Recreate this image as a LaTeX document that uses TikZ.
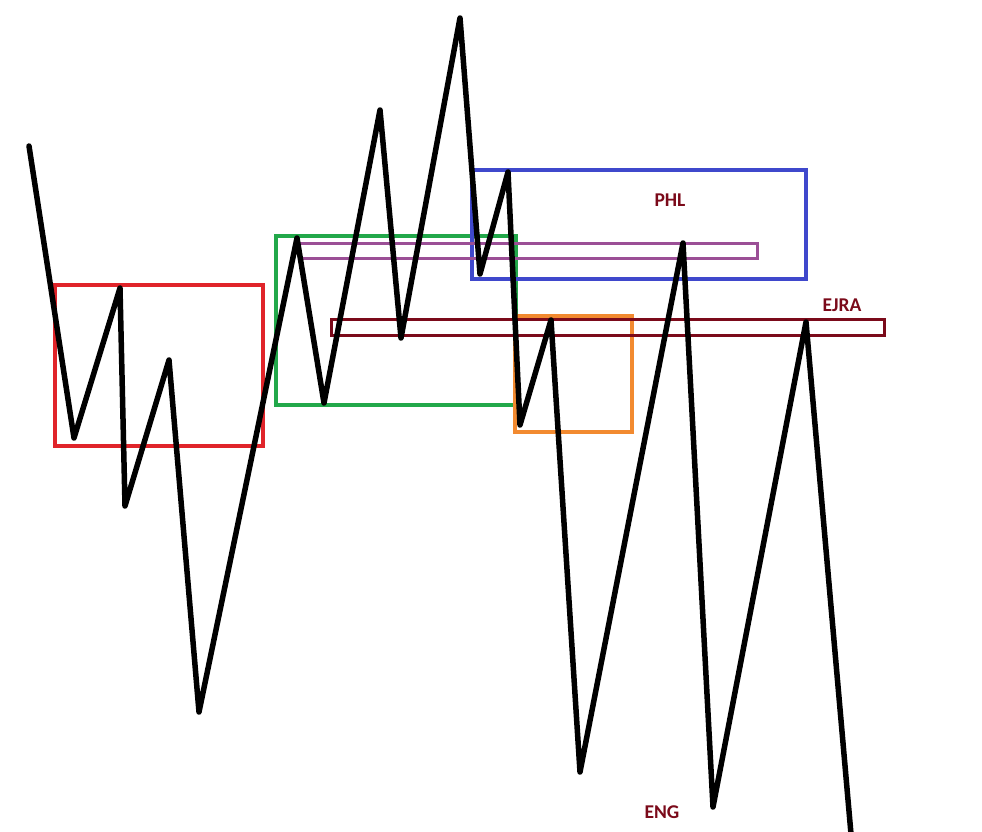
\documentclass[tikz,border=0pt]{standalone}
\usepackage{fontspec}
\setmainfont{Carlito}
\usepackage{tikz}
\usetikzlibrary{calc}
\definecolor{boxred}{RGB}{224,36,42}
\definecolor{boxgreen}{RGB}{34,168,74}
\definecolor{boxblue}{RGB}{63,72,204}
\definecolor{boxpurple}{RGB}{155,79,150}
\definecolor{boxorange}{RGB}{242,138,48}
\definecolor{levelred}{RGB}{123,10,26}
\tikzstyle{price}  = [line width=5.5pt, black, line join=round, line cap=round]
\tikzstyle{zone}   = [line width=4.5pt]
\tikzstyle{level}  = [line width=3pt]
\tikzstyle{tag}    = [font=\bfseries\fontsize{19.5}{21}\selectfont, text=levelred, inner sep=0pt]

\begin{document}
\begin{tikzpicture}[x=1pt, y=-1pt]
            \useasboundingbox (0,0) rectangle (982,832);
            % 1. 价格折线的拐点
            \coordinate (p0)  at (29,146);
            \coordinate (p1)  at (74,438);
            \coordinate (p2)  at (120,288);
            \coordinate (p3)  at (125,506);
            \coordinate (p4)  at (169,360);
            \coordinate (p5)  at (199,712);
            \coordinate (p6)  at (297,238);
            \coordinate (p7)  at (324,403);
            \coordinate (p8)  at (380,110);
            \coordinate (p9)  at (401,338);
            \coordinate (p10) at (460,18);
            \coordinate (p11) at (480,274);
            \coordinate (p12) at (508,172);
            \coordinate (p13) at (520,425);
            \coordinate (p14) at (551,320);
            \coordinate (p15) at (580,772);
            \coordinate (p16) at (683,243);
            \coordinate (p17) at (713,807);
            \coordinate (p18) at (806,322);
            \coordinate (p19) at (851,834);

            % 2. 区域方框
            \draw [zone, boxred]    (55,285)  rectangle (263,446);   % 左侧红框
            \draw [zone, boxgreen]  (276,236) rectangle (516,405);   % 中间绿框
            \draw [zone, boxblue]   (472,170) rectangle (806,279);   % 上方蓝框
            \draw [zone, boxorange] (515,316) rectangle (632,432);   % 橙框

            % 3. 水平价位带
            \draw [level, boxpurple] (299,243) rectangle (757,258);  % 紫色带
            \draw [level, levelred]  (331,319) rectangle (884,335);  % 深红带

            % 4. 价格折线
            \draw [price] (p0) -- (p1) -- (p2) -- (p3) -- (p4) -- (p5) -- (p6)
                -- (p7) -- (p8) -- (p9) -- (p10) -- (p11) -- (p12) -- (p13)
                -- (p14) -- (p15) -- (p16) -- (p17) -- (p18) -- (p19);

            % 5. 标签
            \node (phl)  [tag] at (670,200) {PHL};
            \node (ejra) [tag] at (842,305) {EJRA};
            \node (eng)  [tag] at (662,812) {ENG};
        \end{tikzpicture}
\end{document}
